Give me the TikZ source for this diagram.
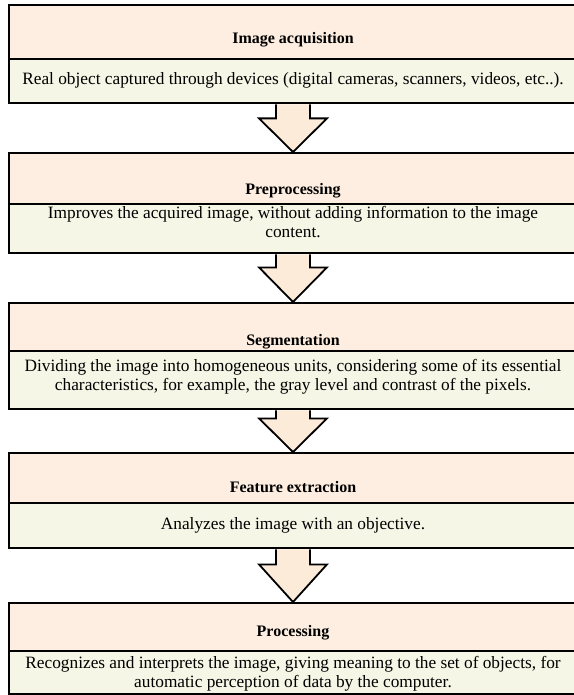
\documentclass[tikz,border=0pt]{standalone}
\usepackage{fontspec}
\setmainfont{Liberation Serif}
\usetikzlibrary{calc}
\definecolor{hdrfill}{HTML}{FDEEE1}
\definecolor{bodyfill}{HTML}{F5F6E5}
\definecolor{arrfill}{HTML}{FDEBDA}
\begin{document}
\begin{tikzpicture}[x=1pt,y=-1pt,
  boxpart/.style={draw=black,line width=2.4pt,minimum width=568pt,inner sep=0pt,anchor=north},
  hdrbox/.style={boxpart,fill=hdrfill},
  bodybox/.style={boxpart,fill=bodyfill},
  hdrtext/.style={font=\fontsize{16}{18}\selectfont\bfseries,inner sep=0pt},
  bodytext/.style={font=\fontsize{17.3}{18.5}\selectfont,align=center,inner sep=0pt},
  blockarrow/.style={draw=black,line width=1.8pt,fill=arrfill,line join=miter}
]
\useasboundingbox (0,0) rectangle (573,695);
\fill[white] (0,0) rectangle (573,695);

% box geometry: top, divider, bottom
\def\cx{293}
\foreach \n/\t/\d/\b in {1/4/58/102, 2/152/203/252, 3/302/350/408, 4/452/502/547, 5/602/650/693}{
  \pgfmathsetmacro{\hh}{\d-\t}
  \pgfmathsetmacro{\bh}{\b-\d}
  \node[hdrbox,minimum height=\hh pt] (h\n) at (\cx,\t) {};
  \node[bodybox,minimum height=\bh pt] (b\n) at (\cx,\d) {};
}

% block arrows between boxes
\foreach \a/\c/\hs in {1/2/14, 2/3/13, 3/4/8, 4/5/15}{
  \draw[blockarrow]
    ($(b\a.south)+(-17,0)$) -- ($(b\a.south)+(-17,\hs)$) -- ($(b\a.south)+(-34,\hs)$)
    -- (h\c.north)
    -- ($(b\a.south)+(34,\hs)$) -- ($(b\a.south)+(17,\hs)$) -- ($(b\a.south)+(17,0)$);
}

% texts
\node[hdrtext] (t1) at (\cx,40) {Image acquisition};
\node[bodytext] (d1) at (\cx,80) {Real object captured through devices (digital cameras, scanners, videos, etc..).};
\node[hdrtext] (t2) at (\cx,191) {Preprocessing};
\node[bodytext] (d2) at (\cx,222) {Improves the acquired image, without adding information to the image\\content.};
\node[hdrtext] (t3) at (\cx,342) {Segmentation};
\node[bodytext] (d3) at (\cx,377) {Dividing the image into homogeneous units, considering some of its essential\\characteristics, for example, the gray level and contrast of the pixels.};
\node[hdrtext] (t4) at (\cx,487) {Feature extraction};
\node[bodytext] (d4) at (\cx,525) {Analyzes the image with an objective.};
\node[hdrtext] (t5) at (\cx,633) {Processing};
\node[bodytext] (d5) at (\cx,674) {Recognizes and interprets the image, giving meaning to the set of objects, for\\automatic perception of data by the computer.};
\end{tikzpicture}
\end{document}
